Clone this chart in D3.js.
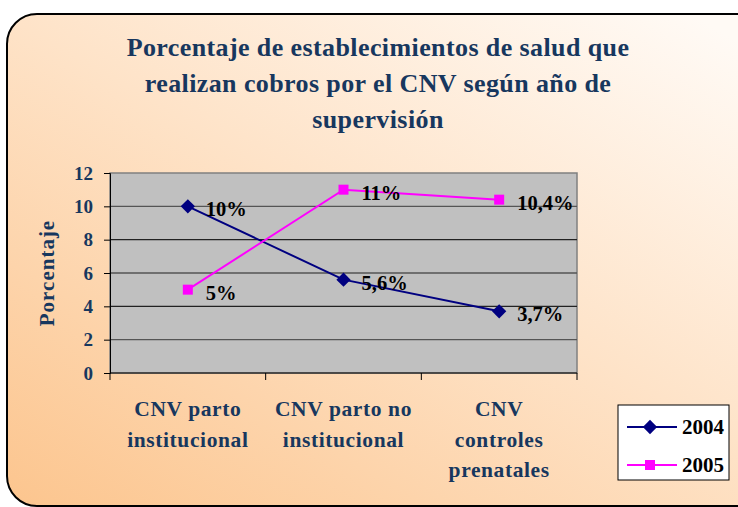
<!DOCTYPE html>
<html>
<head>
<meta charset="utf-8">
<title>CNV</title>
<script src="https://d3js.org/d3.v7.min.js"></script>
<style>
  body { margin: 0; background: #fff; }
  svg { display: block; }
</style>
</head>
<body>
<div id="chart"></div>
<script>
// datos
const categorias = [["CNV parto", "institucional"], ["CNV parto no", "institucional"], ["CNV", "controles", "prenatales"]];
const serie2004 = [10, 5.6, 3.7];
const serie2005 = [5, 11, 10.4];
const etiquetas2004 = ["10%", "5,6%", "3,7%"];
const etiquetas2005 = ["5%", "11%", "10,4%"];
const yTicks = [0, 2, 4, 6, 8, 10, 12];
const titulo = ["Porcentaje de establecimientos de salud que", "realizan cobros por el CNV según año de", "supervisión"];

const W = 738, H = 507;
const plot = {left: 110, top: 173, right: 577, bottom: 373};
const navy = "#000080", magenta = "#ff00ff", azul = "#17375e";
const fuente = "Liberation Serif";

const svg = d3.select("#chart").append("svg")
  .attr("width", W).attr("height", H);

// fondo degradado
const defs = svg.append("defs");
const grad = defs.append("linearGradient").attr("id", "fondo")
  .attr("x1", "0%").attr("y1", "100%").attr("x2", "90%").attr("y2", "0%");
grad.append("stop").attr("offset", "0%").attr("stop-color", "#fcc58e");
grad.append("stop").attr("offset", "55%").attr("stop-color", "#fee3c8");
grad.append("stop").attr("offset", "100%").attr("stop-color", "#fffaf5");

svg.append("rect")
  .attr("x", 7).attr("y", 14).attr("width", 760).attr("height", 492)
  .attr("rx", 30).attr("ry", 30)
  .attr("fill", "url(#fondo)").attr("stroke", "#000").attr("stroke-width", 2);

function texto(sel, size, color, esp) {
  return sel.style("font-family", fuente).style("font-weight", "bold")
    .style("font-size", size + "px").style("letter-spacing", (esp || 0) + "px")
    .attr("fill", color);
}

// título
texto(svg.append("text"), 26, azul, 0.4)
  .attr("x", 378).attr("y", 56)
  .attr("text-anchor", "middle")
  .selectAll("tspan").data(titulo).join("tspan")
  .attr("x", 378).attr("dy", (d, i) => i === 0 ? 0 : 36)
  .text(d => d);

// escalas
const x = d3.scaleBand().domain(d3.range(categorias.length))
  .range([plot.left, plot.right]);
const y = d3.scaleLinear().domain([0, 12]).range([plot.bottom, plot.top]);

svg.append("rect")
  .attr("x", plot.left).attr("y", plot.top)
  .attr("width", plot.right - plot.left).attr("height", plot.bottom - plot.top)
  .attr("fill", "#c0c0c0").attr("stroke", "#808080").attr("stroke-width", 1.5);

// líneas de cuadrícula
svg.append("g").selectAll("line").data(yTicks.filter(d => d > 0 && d < 12)).join("line")
  .attr("x1", plot.left).attr("x2", plot.right)
  .attr("y1", d => y(d)).attr("y2", d => y(d))
  .attr("stroke", (d, i) => i % 2 ? "#222" : "#555").attr("stroke-width", 1.3);

// eje y
const yAxis = svg.append("g")
  .attr("transform", `translate(${plot.left},0)`)
  .call(d3.axisLeft(y).tickValues(yTicks).tickSize(6).tickPadding(11));
yAxis.select(".domain").attr("stroke", "#000");
yAxis.selectAll(".tick line").attr("stroke", "#000");
texto(yAxis.selectAll(".tick text"), 19, azul);

// eje x
svg.append("line")
  .attr("x1", plot.left).attr("x2", plot.right)
  .attr("y1", plot.bottom).attr("y2", plot.bottom).attr("stroke", "#000");
const bordes = d3.range(categorias.length + 1).map(i => i < categorias.length ? x(i) : plot.right);
svg.append("g").selectAll("line").data(bordes).join("line")
  .attr("x1", d => d).attr("x2", d => d)
  .attr("y1", plot.bottom).attr("y2", plot.bottom + 7)
  .attr("stroke", "#000");

texto(svg.append("g").selectAll("text").data(categorias).join("text"), 21.5, azul, 0.6)
  .attr("text-anchor", "middle")
  .each(function(d, i) {
    d3.select(this).selectAll("tspan").data(d).join("tspan")
      .attr("x", x(i) + x.bandwidth() / 2)
      .attr("y", (t, j) => 416 + j * 30.5)
      .text(t => t);
  });

texto(svg.append("text"), 21, azul, 1)
  .attr("transform", `translate(54,273) rotate(-90)`)
  .attr("text-anchor", "middle")
  .text("Porcentaje");

// series
const cx = i => x(i) + x.bandwidth() / 2;
const linea = d3.line().x((d, i) => cx(i)).y(d => y(d));

svg.append("path").datum(serie2004)
  .attr("d", linea).attr("fill", "none").attr("stroke", navy).attr("stroke-width", 2);
svg.append("path").datum(serie2005)
  .attr("d", linea).attr("fill", "none").attr("stroke", magenta).attr("stroke-width", 2);

const diamante = d3.symbol().type(d3.symbolDiamond2).size(130);
const cuadrado = d3.symbol().type(d3.symbolSquare).size(100);

svg.append("g").selectAll("path").data(serie2004).join("path")
  .attr("d", diamante)
  .attr("transform", (d, i) => `translate(${cx(i)},${y(d)})`)
  .attr("fill", navy);
svg.append("g").selectAll("path").data(serie2005).join("path")
  .attr("d", cuadrado)
  .attr("transform", (d, i) => `translate(${cx(i)},${y(d)})`)
  .attr("fill", magenta);

// etiquetas de datos
texto(svg.append("g").selectAll("text").data(serie2004).join("text"), 20.5, "#000")
  .attr("x", (d, i) => cx(i) + 18).attr("y", d => y(d) + 10)
  .text((d, i) => etiquetas2004[i]);
texto(svg.append("g").selectAll("text").data(serie2005).join("text"), 20.5, "#000")
  .attr("x", (d, i) => cx(i) + 18).attr("y", d => y(d) + 10)
  .text((d, i) => etiquetas2005[i]);

// leyenda
const leyenda = svg.append("g").attr("transform", "translate(618,405)");
leyenda.append("rect").attr("width", 111).attr("height", 75)
  .attr("fill", "#fff").attr("stroke", "#000");
const items = [
  {nombre: "2004", color: navy, simbolo: diamante},
  {nombre: "2005", color: magenta, simbolo: cuadrado}
];
items.forEach((it, i) => {
  const yy = 22 + i * 38;
  leyenda.append("line").attr("x1", 9).attr("x2", 59).attr("y1", yy).attr("y2", yy)
    .attr("stroke", it.color).attr("stroke-width", 2);
  leyenda.append("path").attr("d", it.simbolo)
    .attr("transform", `translate(32,${yy})`)
    .attr("fill", it.color);
  texto(leyenda.append("text"), 21, "#000")
    .attr("x", 64).attr("y", yy + 7).text(it.nombre);
});
</script>
</body>
</html>
